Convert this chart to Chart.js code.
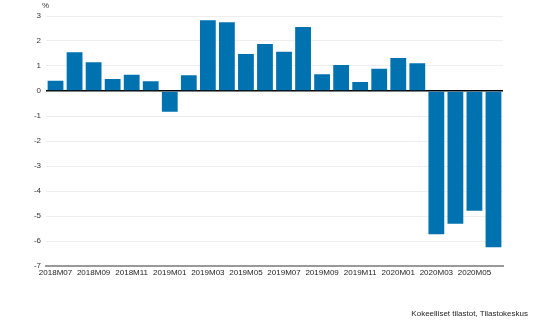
<!DOCTYPE html>
<html>
<head>
<meta charset="utf-8">
<script src="https://cdn.jsdelivr.net/npm/chart.js@4"></script>
<style>
  html, body { margin: 0; padding: 0; background: #fff; }
  #wrap { position: relative; width: 540px; height: 322px; }
</style>
</head>
<body>
<div id="wrap"><canvas id="chart" width="540" height="322"></canvas></div>
<script>
const months = [
  '2018M07', '2018M08', '2018M09', '2018M10', '2018M11', '2018M12',
  '2019M01', '2019M02', '2019M03', '2019M04', '2019M05', '2019M06',
  '2019M07', '2019M08', '2019M09', '2019M10', '2019M11', '2019M12',
  '2020M01', '2020M02', '2020M03', '2020M04', '2020M05', '2020M06',
];
const change = [
  0.41, 1.55, 1.15, 0.48, 0.65, 0.39,
  -0.83, 0.63, 2.83, 2.75, 1.48, 1.88,
  1.57, 2.56, 0.67, 1.04, 0.36, 0.89,
  1.32, 1.11, -5.73, -5.31, -4.79, -6.25,
];
const yMin = -7;
const yMax = 3;
const unitLabel = '%';
const sourceLabel = 'Kokeelliset tilastot, Tilastokeskus';

const font = "'Liberation Sans', Arial, sans-serif";

const extraText = {
  id: 'extraText',
  afterDraw(chart) {
    const ctx = chart.ctx;
    ctx.save();
    ctx.fillStyle = '#333';
    ctx.font = '8px ' + font;
    ctx.textAlign = 'left';
    ctx.textBaseline = 'middle';
    ctx.fillText(unitLabel, 42, 6);
    ctx.fillStyle = '#222';
    ctx.textAlign = 'right';
    ctx.fillText(sourceLabel, 528, 314);
    ctx.restore();
  },
};

new Chart(document.getElementById('chart'), {
  type: 'bar',
  data: {
    labels: months,
    datasets: [{
      data: change,
      backgroundColor: '#0072b0',
      borderWidth: 0,
      barPercentage: 0.83,
      categoryPercentage: 1,
    }],
  },
  options: {
    responsive: false,
    animation: false,
    layout: { padding: { top: 16, right: 37, left: 0, bottom: 0 } },
    plugins: { legend: { display: false }, tooltip: { enabled: false } },
    scales: {
      x: {
        grid: { display: false, drawTicks: false },
        border: { display: true, color: '#999', width: 2 },
        ticks: {
          autoSkip: false,
          maxRotation: 0,
          minRotation: 0,
          padding: 2,
          color: '#222',
          font: { size: 8, family: font },
          callback: (v, i) => (i % 2 === 0 ? months[i] : ''),
        },
        afterFit: (s) => { s.height = 56; },
      },
      y: {
        min: yMin,
        max: yMax,
        ticks: {
          stepSize: 1,
          padding: 5,
          color: '#333',
          font: { size: 8, family: font },
        },
        grid: {
          drawTicks: false,
          color: (c) => (c.tick.value === 0 ? '#000' : '#eee'),
          lineWidth: (c) => (c.tick.value === 0 ? 1.5 : 1),
        },
        border: { display: false },
        afterFit: (s) => { s.width = 46; },
      },
    },
  },
  plugins: [extraText],
});
</script>
</body>
</html>
